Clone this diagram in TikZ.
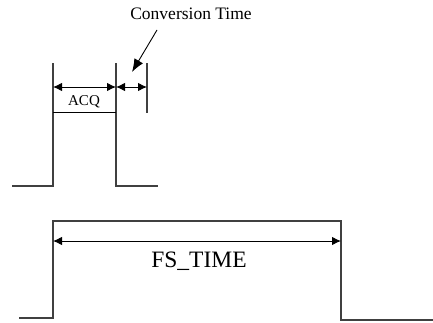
\documentclass[tikz,border=0pt]{standalone}
\usepackage{fontspec}
\setmainfont{Liberation Serif}
\usetikzlibrary{arrows.meta,positioning}

\begin{document}
\begin{tikzpicture}[x=1pt,y=1pt,
  wave/.style={line width=1.2pt,black!75},
  dim/.style={{Latex[length=9pt,width=8.5pt]}-{Latex[length=9pt,width=8.5pt]},line width=0.9pt},
  ptr/.style={-{Latex[length=13pt,width=10pt]},line width=0.9pt}]
\useasboundingbox (0,0) rectangle (433,322);
% upper pulse
\coordinate (a0) at (12,136);
\coordinate (a1) at (53,136);
\coordinate (a2) at (53,259);
\coordinate (b2) at (116,259);
\coordinate (b1) at (116,136);
\coordinate (b0) at (158,136);
\coordinate (c2) at (147,259);
\coordinate (c1) at (147,209);
\draw[wave] (a0) -- (a1) -- (a2);
\draw[wave] (b2) -- (b1) -- (b0);
\draw[wave] (c2) -- (c1);
\coordinate (q1) at (53,235);
\coordinate (q2) at (116,235);
\coordinate (q3) at (147,235);
\draw[dim] (q1) -- (q2);
\draw[dim] (q2) -- (q3);
\coordinate (u1) at (53,210);
\coordinate (u2) at (116,210);
\draw[line width=0.9pt] (u1) -- (u2);
\node (acq) at (84,220) {\fontsize{15}{18}\selectfont ACQ};
\node (conv) at (191,308) {\fontsize{17.5}{20}\selectfont Conversion Time};
\coordinate (pstart) at (157,292);
\coordinate (ptip) at (132,250);
\draw[ptr] (pstart) -- (ptip);
% lower pulse
\coordinate (d0) at (19,4);
\coordinate (d1) at (53,4);
\coordinate (d2) at (53,101);
\coordinate (e2) at (341,101);
\coordinate (e1) at (341,2);
\coordinate (e0) at (433,2);
\draw[wave] (d0) -- (d1) -- (d2) -- (e2) -- (e1) -- (e0);
\coordinate (f1) at (53,81);
\coordinate (f2) at (341,81);
\draw[dim] (f1) -- (f2);
\node (fs) at (199,61) {\fontsize{23.5}{27}\selectfont FS\_TIME};
\end{tikzpicture}
\end{document}
